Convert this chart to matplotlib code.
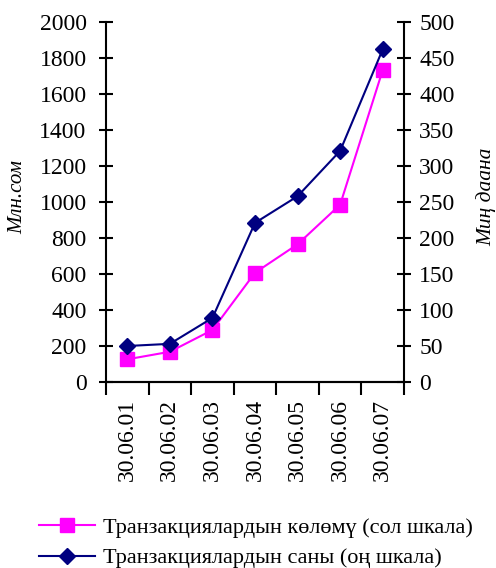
import matplotlib
matplotlib.use("Agg")
import matplotlib.pyplot as plt
from matplotlib.lines import Line2D

dates = ["30.06.01", "30.06.02", "30.06.03", "30.06.04", "30.06.05", "30.06.06", "30.06.07"]
volume_mln_som = [126, 168, 289, 607, 765, 985, 1733]
count_thousand = [50, 53, 89, 221, 258, 321, 462]

plt.rcParams["font.family"] = ["Liberation Serif", "DejaVu Serif"]
FS = 17
LFS = 16

fig = plt.figure(figsize=(4.96, 5.68), dpi=100)
ax = fig.add_axes([106 / 496, 1 - 382 / 568, (404 - 106) / 496, 360 / 568])
ax2 = ax.twinx()

x = list(range(len(dates)))
mag = "#FF00FF"
navy = "#000080"

ax.plot(x, volume_mln_som, color=mag, lw=1.5, marker="s", markersize=9.5,
        markeredgecolor=mag, zorder=3)
ax2.plot(x, count_thousand, color=navy, lw=1.5, marker="D", markersize=8,
         markeredgecolor=navy, zorder=3)

ax.set_xlim(-0.5, len(dates) - 0.5)
ax.set_ylim(0, 2000)
ax2.set_ylim(0, 500)
ax.set_yticks(range(0, 2001, 200))
ax2.set_yticks(range(0, 501, 50))

# category ticks on boundaries, labels centred on categories
ax.set_xticks([i - 0.5 for i in range(len(dates) + 1)])
ax.set_xticklabels([])
ax.set_xticks(x, minor=True)
ax.set_xticklabels(dates, minor=True, rotation=90, fontsize=FS)
ax.tick_params(axis="x", which="major", direction="out", length=9, width=1.5)
ax.tick_params(axis="x", which="minor", length=0, pad=12)

ax.tick_params(axis="y", direction="inout", length=10, width=1.5, labelsize=FS, pad=9)
ax2.tick_params(axis="y", direction="inout", length=10, width=1.5, labelsize=FS, pad=6)

for a in (ax, ax2):
    a.spines["top"].set_visible(False)
    for s in ("left", "right", "bottom"):
        a.spines[s].set_linewidth(1.5)
ax.spines["right"].set_visible(False)
ax2.spines["left"].set_visible(False)

fig.text(18 / 496, 1 - 197 / 568, "Млн.сом", rotation=90, style="italic",
         fontsize=15, ha="center", va="center")
fig.text(486 / 496, 1 - 197 / 568, "Миң даана", rotation=90, style="italic",
         fontsize=15.5, ha="center", va="center")

handles = [
    Line2D([], [], color=mag, lw=1.5, marker="s", markersize=9.5, markeredgecolor=mag),
    Line2D([], [], color=navy, lw=1.5, marker="D", markersize=8, markeredgecolor=navy),
]
labels = ["Транзакциялардын көлөмү (сол шкала)", "Транзакциялардын саны (оң шкала)"]
fig.legend(handles, labels, loc="lower left", bbox_to_anchor=(26 / 496, -0.024),
           frameon=False, fontsize=LFS, handlelength=2.5, handletextpad=0.36,
           labelspacing=0.45, borderaxespad=0.2)

fig.savefig("out.png", dpi=100)
